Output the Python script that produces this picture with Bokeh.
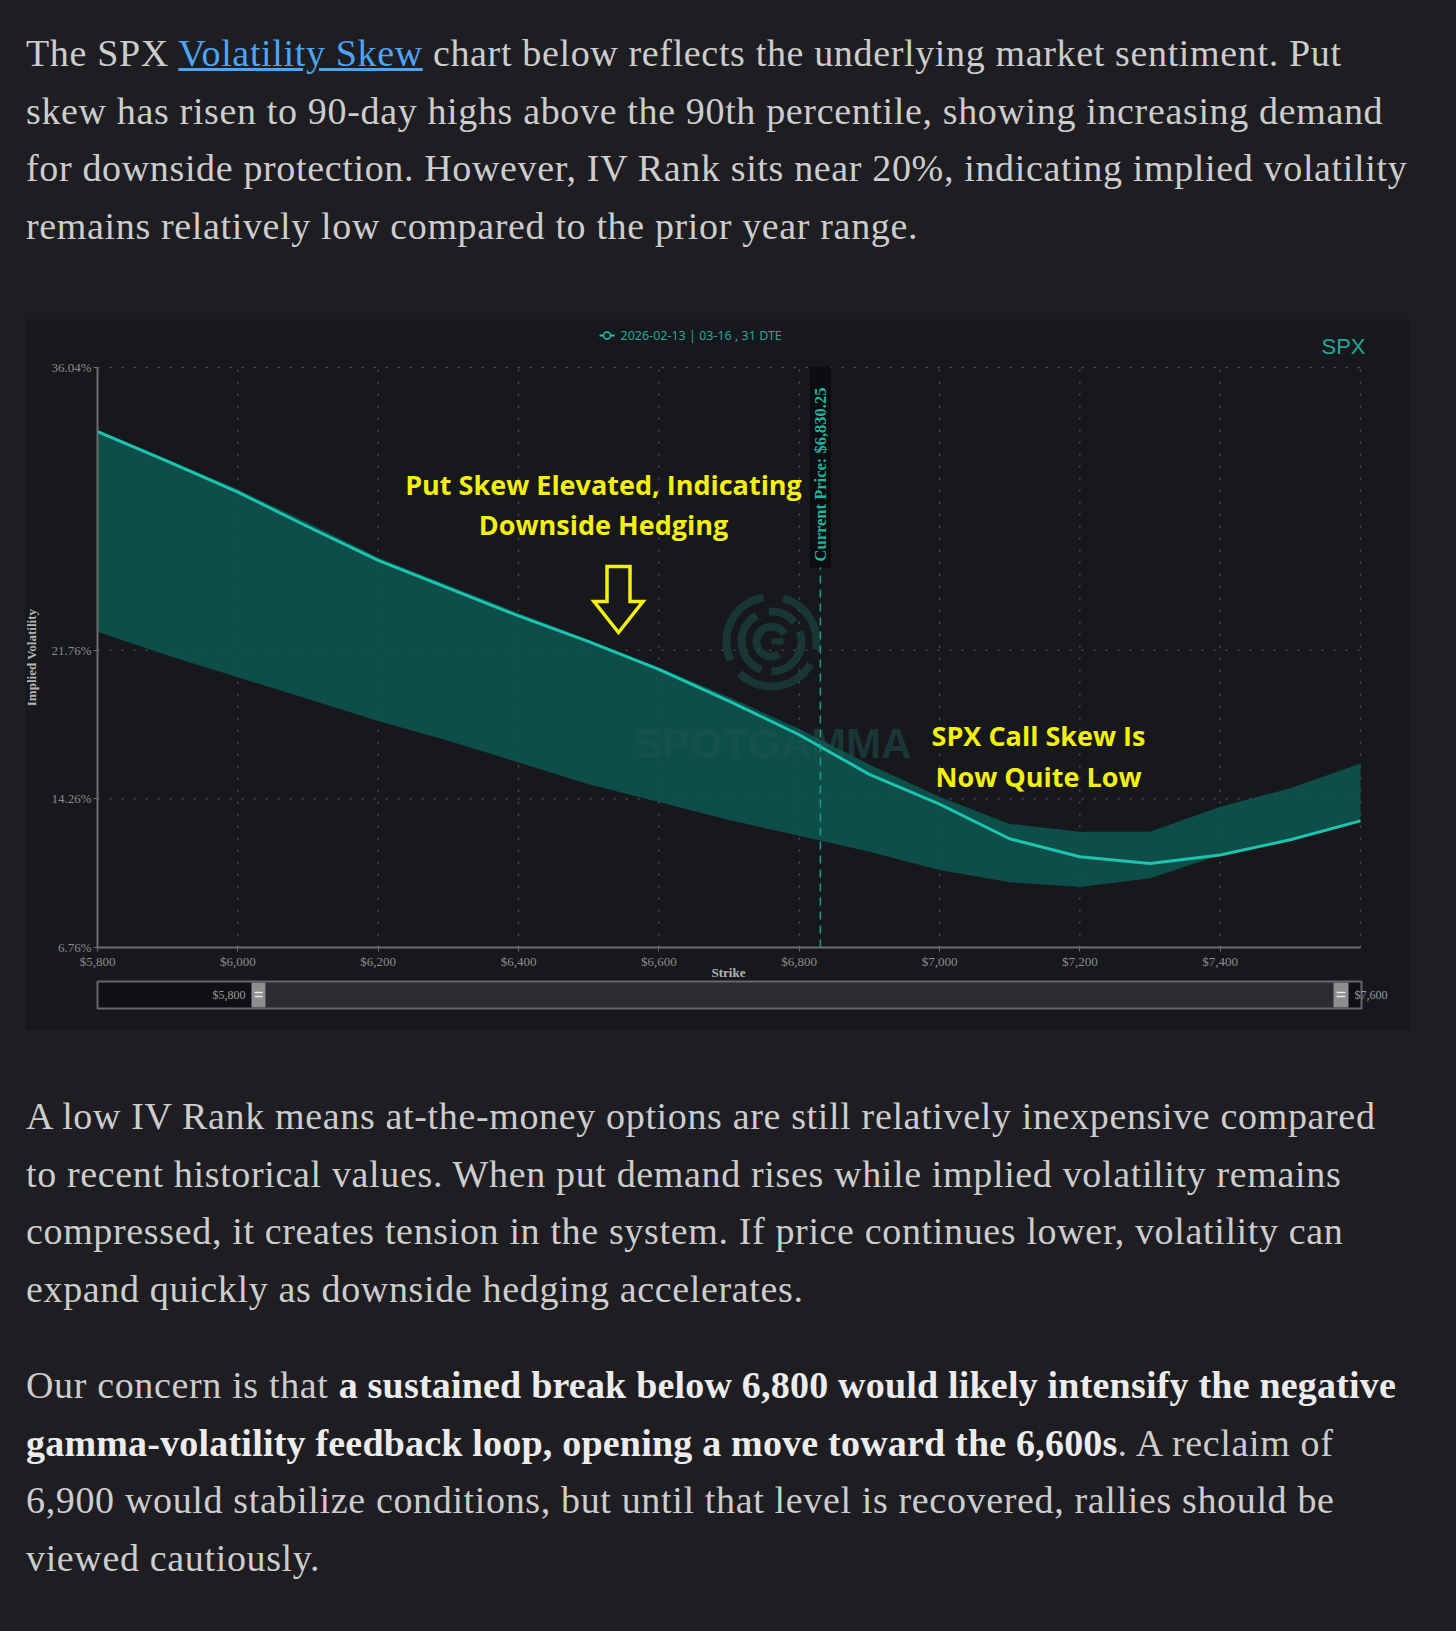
import math
from bokeh.plotting import figure
from bokeh.models import (ColumnDataSource, Range1d, FixedTicker, PrintfTickFormatter,
                          NumeralTickFormatter, Div, GlobalInlineStyleSheet)
from bokeh.layouts import column
from bokeh.core.properties import value
from bokeh.embed import file_html
from bokeh.resources import INLINE

# ---------------- data ----------------
strikes = [5800, 5900, 6000, 6100, 6200, 6300, 6400, 6500, 6600, 6700,
           6800, 6900, 7000, 7100, 7200, 7300, 7400, 7500, 7600]
current_iv = [32.8, 31.3, 29.75, 28.0, 26.3, 24.9, 23.5, 22.2, 20.8, 19.2,
              17.5, 15.5, 14.0, 12.25, 11.34, 11.0, 11.43, 12.2, 13.15]
range_high = [32.9, 31.4, 29.9, 28.2, 26.45, 25.05, 23.65, 22.3, 20.9, 19.4,
              17.8, 16.0, 14.37, 13.0, 12.6, 12.6, 13.86, 14.8, 16.05]
range_low = [22.7, 21.5, 20.4, 19.3, 18.2, 17.2, 16.1, 15.0, 14.1, 13.2,
             12.4, 11.6, 10.67, 10.05, 9.82, 10.25, 11.43, 12.2, 13.15]
y_ticks = [6.76, 14.26, 21.76, 36.04]
x_ticks = [5800, 6000, 6200, 6400, 6600, 6800, 7000, 7200, 7400]
x_min, x_max = 5800, 7600
current_price = 6830.25
series_label = "2026-02-13 | 03-16 , 31 DTE"
ticker_name = "SPX"
note_put = ["Put Skew Elevated, Indicating", "Downside Hedging"]
note_call = ["SPX Call Skew Is", "Now Quite Low"]

p1_lines = [
    'The SPX <a style="color:#4ea6f2;text-decoration:underline;">Volatility Skew</a> chart below reflects the underlying market sentiment. Put',
    "skew has risen to 90-day highs above the 90th percentile, showing increasing demand",
    "for downside protection. However, IV Rank sits near 20%, indicating implied volatility",
    "remains relatively low compared to the prior year range.",
]
p2_lines = [
    "A low IV Rank means at-the-money options are still relatively inexpensive compared",
    "to recent historical values. When put demand rises while implied volatility remains",
    "compressed, it creates tension in the system. If price continues lower, volatility can",
    "expand quickly as downside hedging accelerates.",
]
p3_lines = [
    "Our concern is that <b>a sustained break below 6,800 would likely intensify the negative</b>",
    "<b>gamma-volatility feedback loop, opening a move toward the 6,600s</b>. A reclaim of",
    "6,900 would stabilize conditions, but until that level is recovered, rallies should be",
    "viewed cautiously.",
]

# ---------------- styles ----------------
PAGE = "#1d1d22"
PANEL = "#17181c"
TEAL = "#1cc4b0"
BAND = "#0e554f"
YELLOW = "#f4ef12"
GRID = "#55565b"
AXIS = "#6c6d71"

TEXT_STYLE = ("font-family:'Liberation Serif',serif;font-size:38px;line-height:57.7px;"
              "letter-spacing:0.65px;color:#cdcdcd;white-space:nowrap;")
BOLD_CSS = "b{color:#ececec;font-weight:bold;letter-spacing:0.2px;}"

def para(lines, extra=""):
    return f'<div style="{TEXT_STYLE}{extra}">' + "<br>".join(lines) + "</div>"

html1 = f"<style>{BOLD_CSS}</style>" + para(p1_lines, "padding:25px 0 0 26px;")
html2 = (f"<style>{BOLD_CSS}</style>" + para(p2_lines, "padding:58px 0 0 26px;")
         + para(p3_lines, "padding:38px 0 0 26px;"))

div1 = Div(text=html1, width=1440, height=319, margin=(0, 0, 0, 0),
           stylesheets=[GlobalInlineStyleSheet(css=f"html,body{{background-color:{PAGE} !important;}}")])
div2 = Div(text=html2, width=1440, height=600, margin=(0, 0, 0, 0))

# ---------------- chart geometry (page pixels) ----------------
FIG_L, FIG_T, FIG_W, FIG_H = 25, 319, 1385, 711
AX_L, AX_R, AX_T, AX_B = 97, 1360, 367, 947
y_bot, y_top = y_ticks[0], y_ticks[-1]
kx = (AX_R - AX_L) / (x_max - x_min)
ky = (AX_B - AX_T) / (y_top - y_bot)

def sx(px):
    return x_min + (px - AX_L) / kx

def sy(py):
    return y_bot + (AX_B - py) / ky

p = figure(width=FIG_W, height=FIG_H, title=None,
           x_range=Range1d(sx(FIG_L), sx(FIG_L + FIG_W)),
           y_range=Range1d(sy(FIG_T + FIG_H), sy(FIG_T)),
           output_backend="svg", toolbar_location=None,
           min_border_left=0, min_border_right=0, min_border_top=0, min_border_bottom=0,
           background_fill_color=PANEL, border_fill_color=PANEL, outline_line_color=None,
           margin=(0, 0, 0, FIG_L))
p.grid.visible = False

p.xaxis.ticker = FixedTicker(ticks=x_ticks)
p.xaxis.formatter = NumeralTickFormatter(format="$0,0")
p.xaxis.fixed_location = y_bot
p.xaxis.bounds = (x_min, x_max)
p.yaxis.ticker = FixedTicker(ticks=y_ticks)
p.yaxis.formatter = PrintfTickFormatter(format="%.2f%%")
p.yaxis.fixed_location = x_min
p.yaxis.bounds = (y_bot, y_top)
for ax in (p.xaxis, p.yaxis):
    ax.axis_line_color = AXIS
    ax.axis_line_width = 2
    ax.major_tick_line_color = AXIS
    ax.major_tick_out = 4
    ax.major_tick_in = 0
    ax.minor_tick_line_color = None
    ax.major_label_text_font = "Liberation Serif"
    ax.major_label_text_font_size = "13px"
    ax.major_label_text_color = "#8c8c8c"
    ax.major_label_standoff = 2

# dotted grid drawn from the tick lists
gx = x_ticks[1:] + [x_max]
p.segment(x0=gx, x1=gx, y0=[y_bot] * len(gx), y1=[y_top] * len(gx),
          line_color=GRID, line_dash="2 10", line_width=1.3)
gy = y_ticks[1:]
p.segment(x0=[x_min] * len(gy), x1=[x_max] * len(gy), y0=gy, y1=gy,
          line_color=GRID, line_dash="2 10", line_width=1.3)

src = ColumnDataSource(dict(strike=strikes, iv=current_iv, hi=range_high, lo=range_low))
p.varea(x="strike", y1="lo", y2="hi", source=src, fill_color=BAND, fill_alpha=0.88)

# watermark (logo + wordmark)
wm = "#1a4a47"
lx, ly = sx(771), sy(641)
for r, segs in [(45, [(100, 205), (225, 330), (350, 75)]),
                (30, [(120, 250), (270, 20), (40, 95)]),
                (15, [(30, 300)])]:
    for a0, a1 in segs:
        p.arc(x=[lx], y=[ly], radius=r, radius_units="screen",
              start_angle=math.radians(a0), end_angle=math.radians(a1),
              line_color=wm, line_width=8, line_alpha=0.6)
p.segment(x0=[lx], y0=[ly], x1=[sx(783)], y1=[ly], line_color=wm, line_width=6, line_alpha=0.6)
p.text(x=[sx(772)], y=[sy(743)], text=["SPOTGAMMA"], text_font=value("Liberation Sans"),
       text_font_style="bold", text_font_size="42px", text_color="#1d5551", text_alpha=0.5,
       text_align="center", text_baseline="middle")

p.line(x="strike", y="iv", source=src, line_color=TEAL, line_width=3)

# series key at the top
p.line(x=[sx(599), sx(614)], y=[sy(335), sy(335)], line_color=TEAL, line_width=2)
p.scatter(x=[sx(606.5)], y=[sy(335)], size=7, marker="circle", line_color=TEAL,
          fill_color=PANEL, line_width=1.5)
p.text(x=[sx(620)], y=[sy(335)], text=[series_label], text_font=value("Noto Sans"),
       text_font_size="12.5px", text_color="#22a998", text_align="left", text_baseline="middle")
p.text(x=[sx(1365)], y=[sy(346)], text=[ticker_name], text_font=value("Liberation Sans"),
       text_font_size="22px", text_color="#22a697", text_align="right", text_baseline="middle")

# axis titles
p.text(x=[sx(31)], y=[sy(657)], text=["Implied Volatility"], angle=math.pi / 2,
       text_font=value("Liberation Serif"), text_font_style="bold", text_font_size="13px",
       text_color="#b5b5b5", text_align="center", text_baseline="middle")
p.text(x=[sx(728)], y=[sy(972)], text=["Strike"],
       text_font=value("Liberation Serif"), text_font_style="bold", text_font_size="13px",
       text_color="#b5b5b5", text_align="center", text_baseline="middle")

# current price marker
p.segment(x0=[current_price], x1=[current_price], y0=[y_bot], y1=[y_top],
          line_color="#1a9e8e", line_dash="8 6", line_width=1.5)
p.rect(x=[current_price], y=[sy(466.5)], width=21, height=201, width_units="screen",
       height_units="screen", fill_color="#0c0d10", line_color=None)
p.text(x=[current_price], y=[sy(474)], text=[f"Current Price: ${current_price:,.2f}"],
       angle=math.pi / 2, text_font=value("Liberation Serif"), text_font_style="bold",
       text_font_size="16.5px", text_color="#1fb3a1", text_align="center", text_baseline="middle")

# annotations
ann_font = value("Open Sans")
p.text(x=[sx(603), sx(603)], y=[sy(484), sy(524)], text=note_put, text_font=ann_font,
       text_font_style="bold", text_font_size="27px", text_color=YELLOW,
       text_align="center", text_baseline="middle")
p.text(x=[sx(1038), sx(1038)], y=[sy(735), sy(776)], text=note_call, text_font=ann_font,
       text_font_style="bold", text_font_size="27px", text_color=YELLOW,
       text_align="center", text_baseline="middle")

tip_px, tip_py = 618, 632
shape = [(0, 0), (-24.5, -31), (-11.5, -31), (-11.5, -66), (11.5, -66), (11.5, -31), (24.5, -31)]
p.patch(x=[sx(tip_px + dx) for dx, dy in shape], y=[sy(tip_py + dy) for dx, dy in shape],
        fill_alpha=0, line_color=YELLOW, line_width=3.5, line_join="miter")

# range navigator under the axis
nb_t, nb_b = sy(981), sy(1008)
h_l0, h_l1, h_r0, h_r1 = sx(251), sx(265), sx(1333), sx(1348)
nav_r = sx(1361)
p.quad(left=[x_min, h_l1, h_r1], right=[h_l0, h_r0, nav_r], bottom=nb_b, top=nb_t,
       fill_color=["#0f1013", "#2c2d31", "#0f1013"], line_color=None)
p.quad(left=[h_l0, h_r0], right=[h_l1, h_r1], bottom=sy(1007), top=sy(982),
       fill_color="#8e8e90", line_color=None)
p.segment(x0=[sx(254), sx(254), sx(1336), sx(1336)], x1=[sx(262), sx(262), sx(1345), sx(1345)],
          y0=[sy(992), sy(996)] * 2, y1=[sy(992), sy(996)] * 2,
          line_color="#e8e8e8", line_width=1.5)
p.quad(left=[x_min], right=[nav_r], bottom=[nb_b], top=[nb_t], fill_alpha=0,
       line_color="#66676b", line_width=2)
p.text(x=[sx(245), sx(1354)], y=[sy(994), sy(994)], text=[f"${x_min:,}", f"${x_max:,}"],
       text_font=value("Liberation Serif"), text_font_size="12px", text_color="#9a9a9a",
       text_align=["right", "left"], text_baseline="middle")

layout = column(div1, p, div2, spacing=0)
open("out.html", "w").write(file_html(layout, INLINE))
